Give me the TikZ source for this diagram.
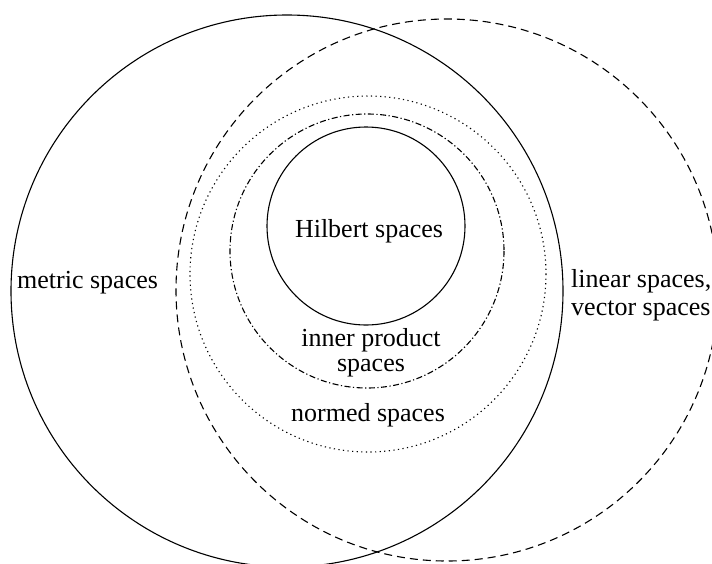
\documentclass[tikz,border=0pt]{standalone}
\usepackage{fontspec}
\setmainfont{Liberation Serif}
\begin{document}
\begin{tikzpicture}[x=1pt,y=-1pt,
  ring/.style={line width=1.1pt},
  lbl/.style={font=\fontsize{26}{25}\selectfont, inner sep=0pt},
  dashring/.style={ring, dash pattern=on 8pt off 5pt},
  dotring/.style={ring, dash pattern=on 1.2pt off 3.4pt},
  dashdotring/.style={ring, dash pattern=on 6pt off 2.5pt on 1.2pt off 2.5pt}]
\useasboundingbox (0,0) rectangle (712,563);
\clip (0,0) rectangle (712,563);
% circles
\draw[ring] (287,291) circle (276);
\draw[dashring] (447,290) circle (271);
\draw[dotring] (368,274) circle (178);
\draw[dashdotring] (367,251) circle (137);
\draw[ring] (366,226) circle (99);
% labels
\node[lbl, anchor=base] (hilbert) at (369,237) {Hilbert spaces};
\node[lbl, anchor=base, align=center] (inner) at (371,371) {inner product\\spaces};
\node[lbl, anchor=base] (normed) at (368,421) {normed spaces};
\node[lbl, anchor=base west] (metric) at (17,288) {metric spaces};
\node[lbl, anchor=base west, align=left, font=\fontsize{26}{28}\selectfont] (linear) at (571,315) {linear spaces,\\vector spaces};
\end{tikzpicture}
\end{document}
